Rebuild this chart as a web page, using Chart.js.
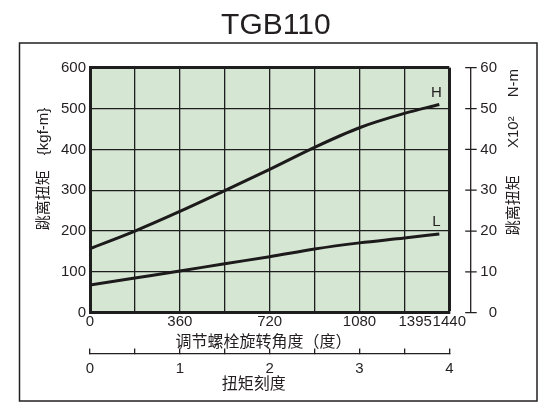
<!DOCTYPE html>
<html>
<head>
<meta charset="utf-8">
<script src="https://cdn.jsdelivr.net/npm/chart.js@4.4.1/dist/chart.umd.min.js"></script>
<style>
  html, body { margin: 0; padding: 0; background: #fff; }
  #wrap { width: 560px; height: 420px; position: relative; }
</style>
</head>
<body>
<div id="wrap"><canvas id="myChart"></canvas></div>
<script>
// data
const angles = [0, 180, 360, 540, 720, 900, 1080, 1260, 1400];
const torqueH = [157, 200, 248, 299, 351, 405, 453, 488, 510];
const torqueL = [68, 85, 102, 120, 137, 156, 171, 183, 193];

// axis ticks
const angleGrid = [0, 180, 360, 540, 720, 900, 1080, 1260, 1395, 1440];
const angleLabels = [0, 360, 720, 1080, 1395, 1440];
const kgfTicks = [0, 100, 200, 300, 400, 500, 600];
const nmTicks = [0, 10, 20, 30, 40, 50, 60];
const dialTicks = [0, 1, 2, 3, 4];

const ink = '#231f20';
const latin = "'Liberation Sans', Arial, 'Noto Sans CJK SC', sans-serif";

// green plot background + outer frame
const plotBg = {
    id: 'plotBg',
    beforeDraw(chart) {
        const { ctx, chartArea: ca } = chart;
        ctx.save();
        ctx.fillStyle = '#d5e6d3';
        ctx.fillRect(ca.left, ca.top, ca.right - ca.left, ca.bottom - ca.top);
        ctx.strokeStyle = ink;
        ctx.lineWidth = 1.5;
        ctx.strokeRect(ca.left - 70.5, ca.top - 24.7, ca.right - ca.left + 158.2, ca.bottom - ca.top + 113);
        ctx.restore();
    }
};

// detached right axis line (x10^2 N-m) and its title, H / L labels
const extras = {
    id: 'extras',
    afterDraw(chart) {
        const { ctx, chartArea: ca } = chart;
        const y2 = chart.scales.y2;
        const x0 = ca.right + 21.4;
        ctx.save();
        ctx.strokeStyle = ink;
        ctx.lineWidth = 1.3;
        ctx.beginPath();
        ctx.moveTo(x0, y2.getPixelForValue(nmTicks[nmTicks.length - 1]));
        ctx.lineTo(x0, y2.getPixelForValue(nmTicks[0]));
        nmTicks.forEach(v => {
            const p = y2.getPixelForValue(v);
            ctx.moveTo(x0 - 5.5, p);
            ctx.lineTo(x0 + 6, p);
        });
        ctx.stroke();

        // right title, reads bottom to top
        ctx.translate(ca.right + 65, ca.top + 87.5);
        ctx.rotate(-Math.PI / 2);
        ctx.fillStyle = ink;
        ctx.textAlign = 'center';
        ctx.textBaseline = 'middle';
        ctx.font = "15px " + latin;
        ctx.fillText('跳离扭矩', -50, 0);
        ctx.fillText('X10²', 23, 0);
        ctx.fillText('N-m', 72, 0);
        ctx.restore();

        // curve labels at the end of each line
        ctx.save();
        ctx.fillStyle = ink;
        ctx.font = "15px " + latin;
        ctx.textAlign = 'center';
        ctx.textBaseline = 'middle';
        chart.data.datasets.forEach((ds, i) => {
            const pts = chart.getDatasetMeta(i).data;
            const last = pts[pts.length - 1];
            ctx.fillText(ds.label, last.x - 3, last.y - 12);
        });
        ctx.restore();
    }
};

const ctx = document.getElementById('myChart').getContext('2d');
const myChart = new Chart(ctx, {
    type: 'line',
    data: {
        datasets: [{
            label: 'H',
            data: angles.map((a, i) => ({ x: a, y: torqueH[i] })),
            borderColor: '#1c1a1a',
            borderWidth: 3,
            pointRadius: 0,
            cubicInterpolationMode: 'monotone',
            xAxisID: 'x',
            yAxisID: 'y'
        }, {
            label: 'L',
            data: angles.map((a, i) => ({ x: a, y: torqueL[i] })),
            borderColor: '#1c1a1a',
            borderWidth: 3,
            pointRadius: 0,
            cubicInterpolationMode: 'monotone',
            xAxisID: 'x',
            yAxisID: 'y'
        }]
    },
    options: {
        responsive: true,
        maintainAspectRatio: false,
        animation: false,
        layout: { padding: 0 },
        plugins: {
            legend: { display: false },
            tooltip: { enabled: false },
            title: {
                display: true,
                text: 'TGB110 ',
                color: ink,
                font: { family: latin, size: 30, weight: 'normal' },
                padding: { top: 8, bottom: 23.7 }
            }
        },
        scales: {
            x: {
                type: 'linear',
                position: 'bottom',
                weight: 0,
                min: 0,
                max: 1440,
                afterBuildTicks: (scale) => { scale.ticks = angleGrid.map(v => ({ value: v })); },
                afterFit: (scale) => { scale.height = 41.3; },
                ticks: {
                    autoSkip: false,
                    maxRotation: 0,
                    padding: 0,
                    color: ink,
                    font: { family: latin, size: 15 },
                    callback: (v) => {
                        if (!angleLabels.includes(v)) return '';
                        return v === 1395 ? '1395           ' : String(v);
                    }
                },
                grid: {
                    drawTicks: false,
                    color: (c) => c.tick && c.tick.value === 1395 ? 'rgba(0,0,0,0)' : '#1e1e1e',
                    lineWidth: (c) => c.tick && c.tick.value === 1440 ? 3 : 1.3
                },
                border: { display: true, color: '#1e1e1e', width: 3 },
                title: {
                    display: true,
                    text: '调节螺栓旋转角度（度）　 ',
                    color: ink,
                    font: { family: latin, size: 16 },
                    padding: { top: 0, bottom: 1.9 }
                }
            },
            x2: {
                type: 'linear',
                position: 'bottom',
                weight: 1,
                min: 0,
                max: 4,
                afterFit: (scale) => { scale.height = 66; },
                ticks: {
                    stepSize: 0.5,
                    autoSkip: false,
                    maxRotation: 0,
                    padding: 11.5,
                    color: ink,
                    font: { family: latin, size: 15 },
                    callback: (v) => dialTicks.includes(v) ? String(v) : ''
                },
                grid: {
                    display: true,
                    drawOnChartArea: false,
                    drawTicks: true,
                    tickLength: -5.5,
                    color: ink,
                    lineWidth: 1.3
                },
                border: { display: true, color: ink, width: 1.3 },
                title: {
                    display: true,
                    text: '扭矩刻度　　',
                    color: ink,
                    font: { family: latin, size: 16 },
                    padding: { top: 0, bottom: 25.4 }
                }
            },
            y: {
                position: 'left',
                min: 0,
                max: 600,
                afterBuildTicks: (scale) => { scale.ticks = kgfTicks.map(v => ({ value: v })); },
                afterFit: (scale) => { scale.width = 90; },
                ticks: {
                    padding: 4,
                    color: ink,
                    font: { family: latin, size: 15 }
                },
                grid: {
                    drawTicks: false,
                    color: '#1e1e1e',
                    lineWidth: (c) => c.tick && c.tick.value === 600 ? 3 : 1.3
                },
                border: { display: true, color: '#1e1e1e', width: 3 },
                title: {
                    display: true,
                    text: '　　   跳离扭矩　{kgf-m}',
                    color: ink,
                    font: { family: latin, size: 15 },
                    padding: { top: 34.4, bottom: 0 }
                }
            },
            y2: {
                position: 'right',
                min: 0,
                max: 60,
                afterBuildTicks: (scale) => { scale.ticks = nmTicks.map(v => ({ value: v })); },
                afterFit: (scale) => { scale.width = 110.7; },
                ticks: {
                    mirror: true,
                    crossAlign: 'near',
                    padding: 47.7,
                    color: ink,
                    font: { family: latin, size: 15 }
                },
                grid: { display: false, drawTicks: false },
                border: { display: false }
            }
        }
    },
    plugins: [plotBg, extras]
});
</script>
</body>
</html>
